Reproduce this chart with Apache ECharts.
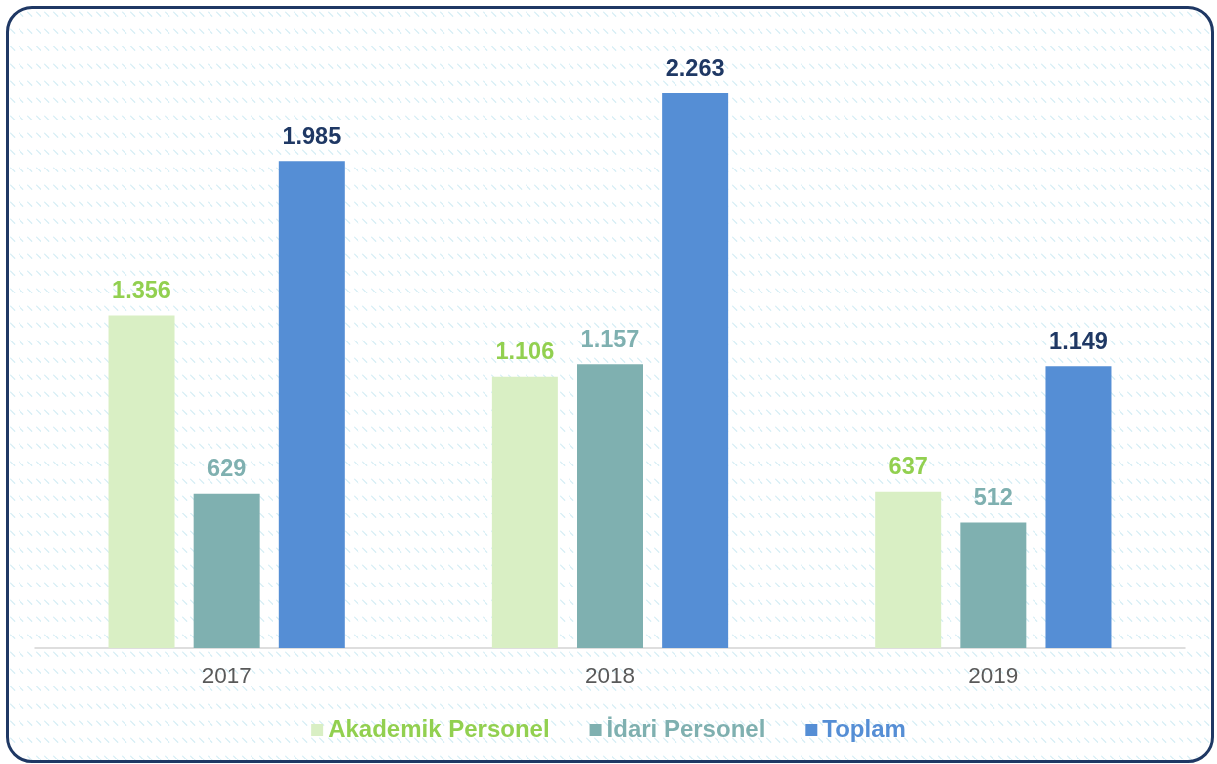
<!DOCTYPE html>
<html>
<head>
<meta charset="utf-8">
<script src="https://cdn.jsdelivr.net/npm/echarts@6/dist/echarts.min.js"></script>
<style>
  html, body { margin: 0; padding: 0; background: #ffffff; }
  #frame {
    position: absolute; left: 6px; top: 6px; width: 1202px; height: 751px;
    border: 3px solid #1f3864; border-radius: 26px; background-color: #ffffff;
    background-image: url("data:image/svg+xml;utf8,<svg xmlns='http://www.w3.org/2000/svg' width='8.6' height='17.3'><path d='M1.5 3 L5.5 7' stroke='%23d6eef5' stroke-width='1.2' stroke-linecap='round'/></svg>");
    background-size: 8.6px 17.3px;
  }
  #chart { position: absolute; left: 0; top: 0; width: 1217px; height: 764px; }
</style>
</head>
<body>
<div id="frame"></div>
<div id="chart"></div>
<script>
const categories = ['2017', '2018', '2019'];
const seriesNames = ['Akademik Personel', 'İdari Personel', 'Toplam'];
const akademik = [1356, 1106, 637];
const idari = [629, 1157, 512];
const toplam = [1985, 2263, 1149];

const barColors = ['#d9efc4', '#7fb0b0', '#558ed5'];
const labelColors = ['#92d050', '#7fb0b0', '#1f3864'];
const legendColors = ['#92d050', '#7fb0b0', '#558ed5'];

function fmt(v) { return String(v).replace(/\B(?=(\d{3})+(?!\d))/g, '.'); }

const values = [akademik, idari, toplam];
const chart = echarts.init(document.getElementById('chart'), null, { renderer: 'canvas' });
chart.setOption({
  backgroundColor: 'transparent',
  animation: false,
  textStyle: { fontFamily: 'Liberation Sans, Arial, sans-serif' },
  grid: { left: 35, right: 32, top: 35, bottom: 116, containLabel: false },
  legend: {
    bottom: 17,
    left: 'center',
    itemWidth: 12, itemHeight: 12, itemGap: 40,
    icon: 'rect',
    data: seriesNames.map((n, i) => ({ name: n, textStyle: { color: legendColors[i] } })),
    textStyle: { fontSize: 24, fontWeight: 'bold', fontFamily: 'Liberation Sans, Arial, sans-serif' }
  },
  xAxis: {
    type: 'category',
    data: categories,
    axisLine: { lineStyle: { color: '#d4d4d4', width: 1.5 } },
    axisTick: { show: false },
    axisLabel: { color: '#595959', fontSize: 22.5, margin: 17 }
  },
  yAxis: { type: 'value', min: 0, max: 2500, show: false, splitLine: { show: false } },
  series: values.map((arr, i) => ({
    name: seriesNames[i],
    type: 'bar',
    data: arr,
    barWidth: 66,
    barGap: '29%',
    itemStyle: { color: barColors[i] },
    label: {
      show: true, position: 'top', distance: 12,
      color: labelColors[i], fontSize: 23.5, fontWeight: 'bold',
      formatter: p => fmt(p.value)
    }
  }))
});
</script>
</body>
</html>
